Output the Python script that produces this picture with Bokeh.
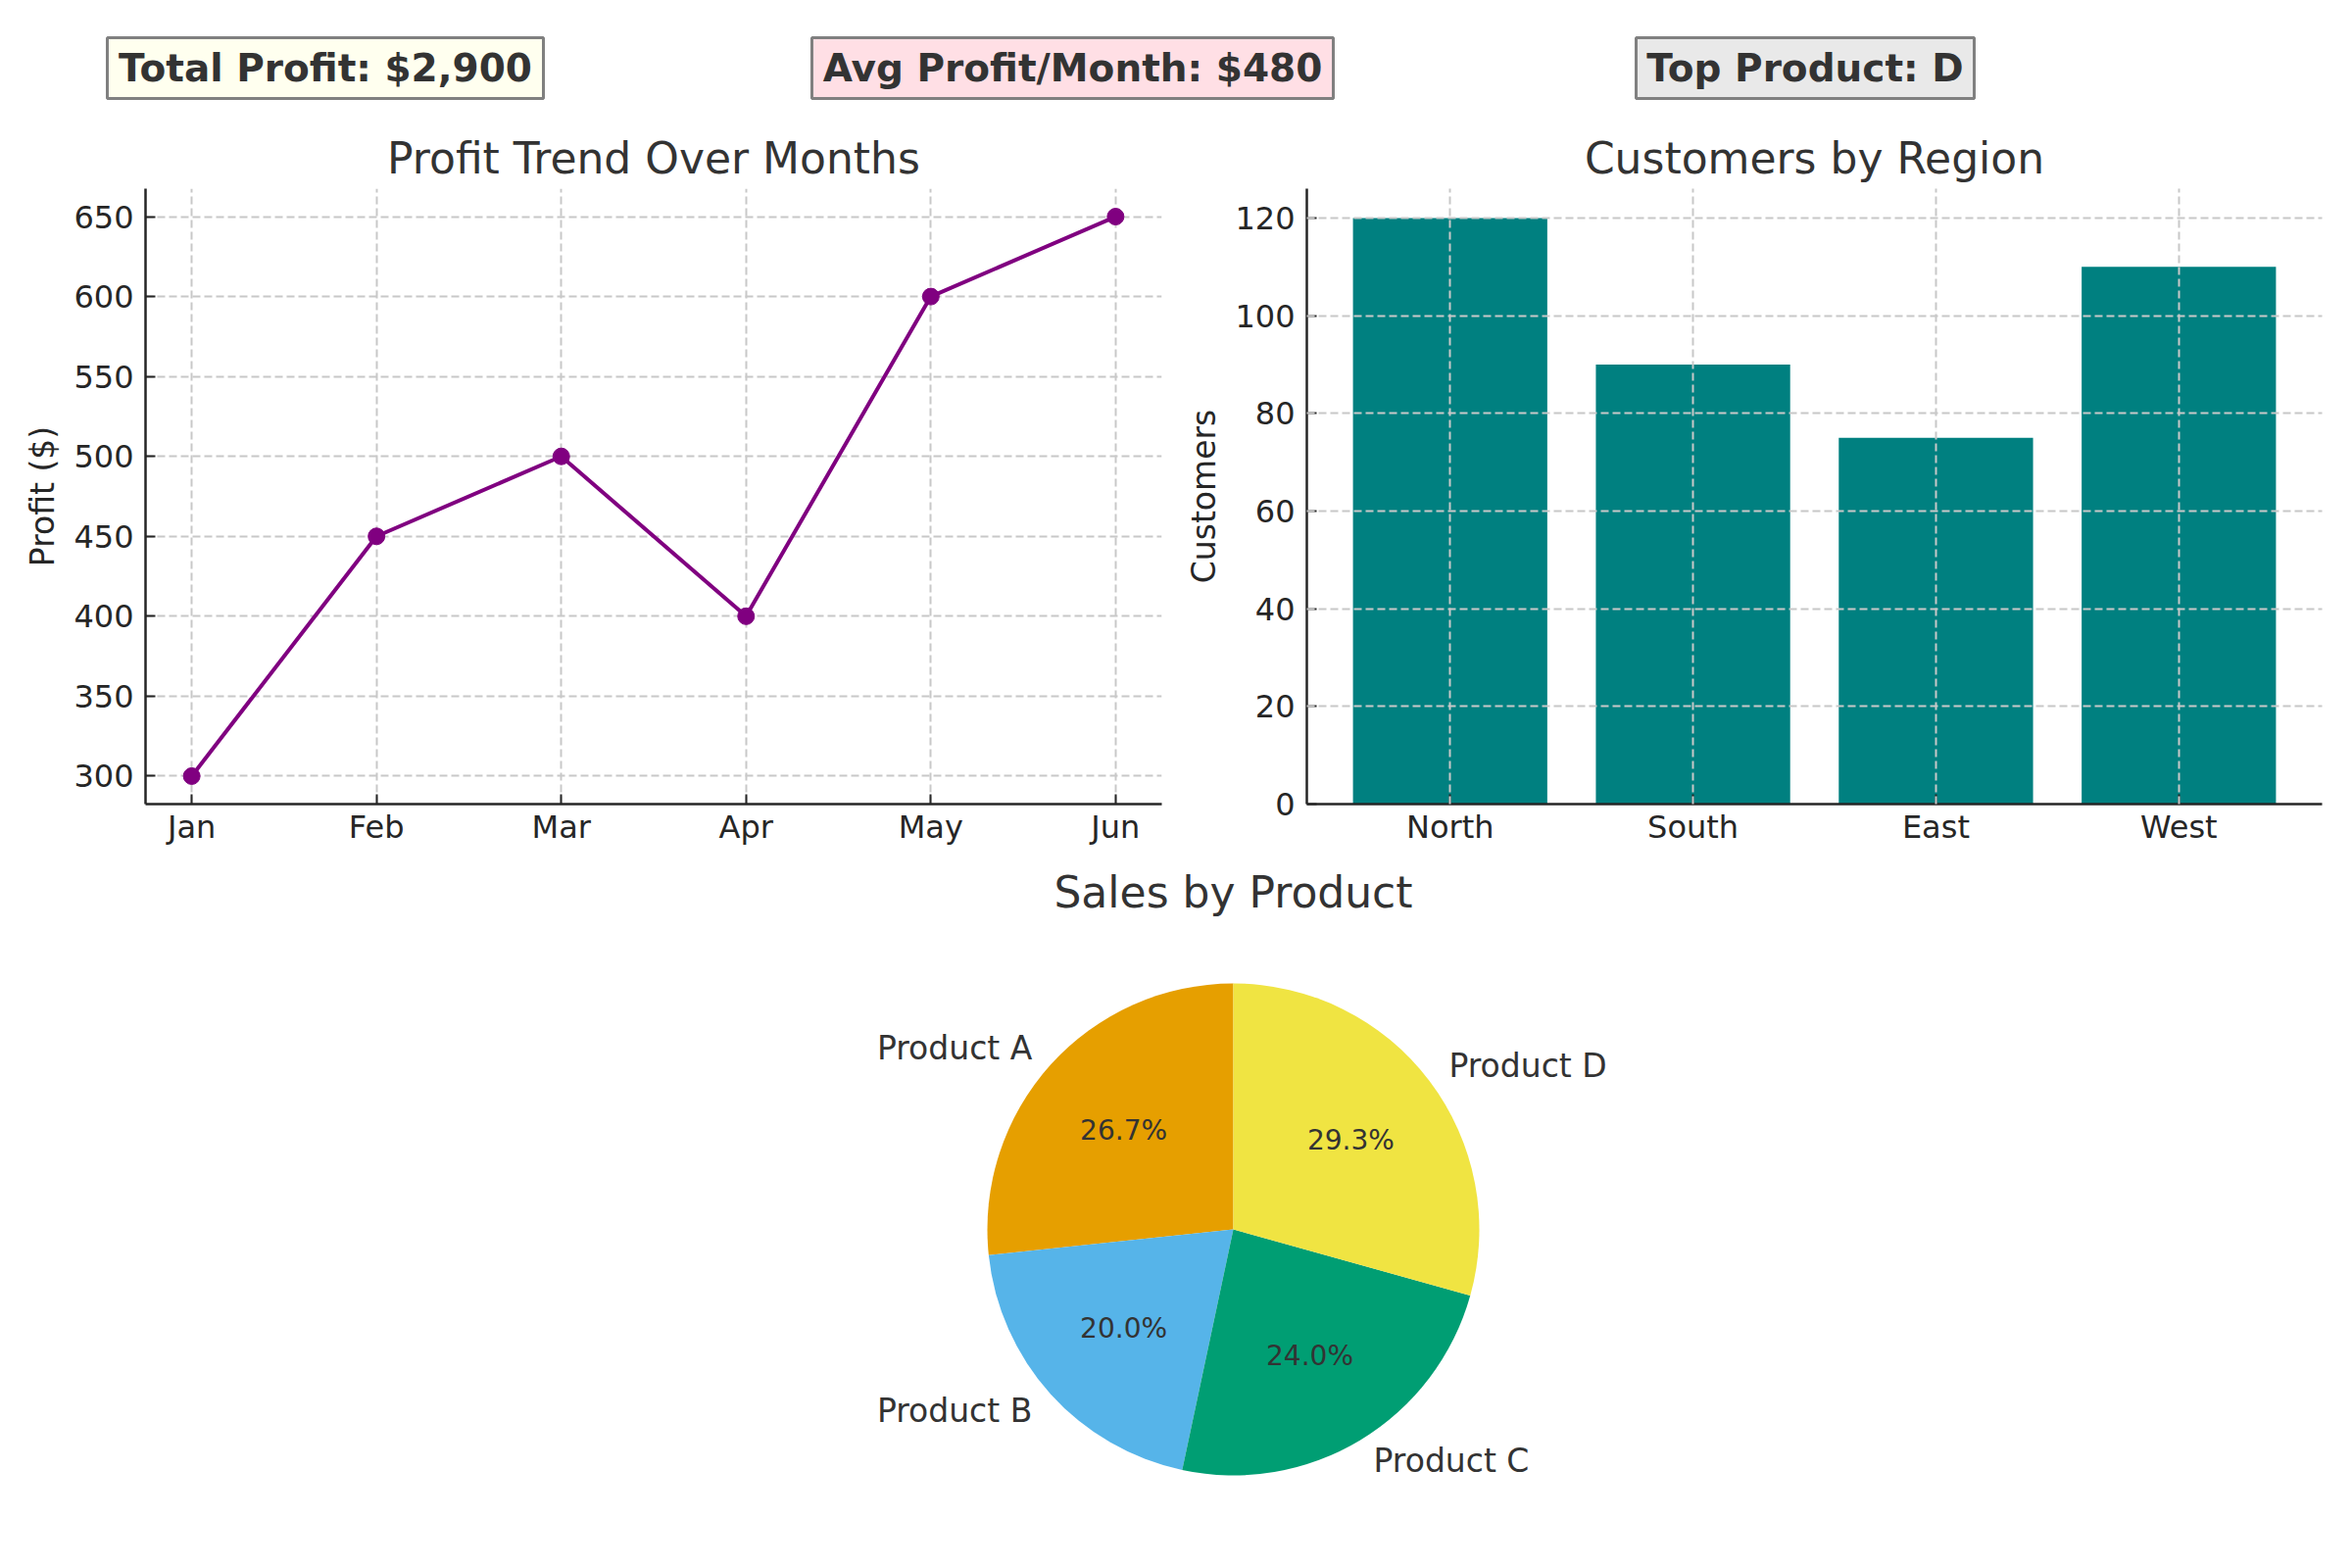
import math
from bokeh.plotting import figure
from bokeh.models import Range1d, FixedTicker
from bokeh.layouts import column, row
from bokeh.embed import file_html
from bokeh.resources import INLINE
from bokeh.core.properties import value

# ---------------- data ----------------
months = ["Jan", "Feb", "Mar", "Apr", "May", "Jun"]
profit = [300, 450, 500, 400, 600, 650]
profit_ticks = [300, 350, 400, 450, 500, 550, 600, 650]

regions = ["North", "South", "East", "West"]
customers = [120, 90, 75, 110]
customer_ticks = [0, 20, 40, 60, 80, 100, 120]

products = ["Product A", "Product B", "Product C", "Product D"]
sales = [200, 150, 180, 220]
pie_colors = ["#E69F00", "#56B4E9", "#009E73", "#F0E442"]

kpi_labels = ["Total Profit: $2,900", "Avg Profit/Month: $480", "Top Product: D"]
kpi_fills = ["#FFFFEF", "#FFDFE5", "#E9E9E9"]
chart_titles = ["Profit Trend Over Months", "Customers by Region", "Sales by Product"]

# ---------------- style ----------------
FONT = "DejaVu Sans"
TXT = "#333333"
AX = "#262626"
GRID = "#c8c8c8"


def style_axes(p):
    p.outline_line_color = None
    for ax in p.axis:
        ax.axis_line_color = AX
        ax.axis_line_width = 2.5
        ax.major_tick_line_color = AX
        ax.major_tick_line_width = 2
        ax.major_tick_in = 10
        ax.major_tick_out = 0
        ax.minor_tick_line_color = None
        ax.major_label_text_font = FONT
        ax.major_label_text_font_size = "32px"
        ax.major_label_text_color = AX
        ax.axis_label_text_font = FONT
        ax.axis_label_text_font_size = "33px"
        ax.axis_label_text_font_style = "normal"
        ax.axis_label_text_color = AX
    p.xaxis.major_label_standoff = 4
    p.yaxis.major_label_standoff = 12
    p.yaxis.axis_label_standoff = 9
    for g in p.grid:
        g.grid_line_color = GRID
        g.grid_line_width = 2
        g.grid_line_dash = "8 4"


# ---------------- header (KPI boxes + chart titles) ----------------
HDR_H = 192
hdr = figure(width=2400, height=HDR_H, x_range=Range1d(0, 2400), y_range=Range1d(HDR_H, 0),
             output_backend="svg", toolbar_location=None, title=None,
             x_axis_location=None, y_axis_location=None, min_border=0)
hdr.grid.visible = False
hdr.outline_line_color = None

box_left = [109, 828, 1669]
box_right = [554, 1360, 2014]
hdr.quad(left=box_left, right=box_right, top=[38] * 3, bottom=[100] * 3,
         fill_color=kpi_fills, line_color="#808080", line_width=3)
hdr.text(x=[(l + r) / 2 for l, r in zip(box_left, box_right)], y=[69] * 3, text=kpi_labels,
         text_font=value(FONT), text_font_size=value("39px"), text_font_style="bold",
         text_color=TXT, text_align="center", text_baseline="middle")
hdr.text(x=[666.5, 1851], y=[161, 161], text=chart_titles[:2],
         text_font=value(FONT), text_font_size=value("44px"),
         text_color=TXT, text_align="center", text_baseline="middle")

# ---------------- line chart ----------------
xs = list(range(len(months)))
pl = figure(width=1195, height=688, x_range=Range1d(-0.25, len(months) - 0.75),
            y_range=Range1d(282.5, 667.5), output_backend="svg", toolbar_location=None,
            title=None, min_border_left=148, min_border_right=10, min_border_top=0,
            min_border_bottom=60)
pl.line(xs, profit, line_color="#800080", line_width=4)
pl.scatter(xs, profit, size=17, fill_color="#800080", line_color="#800080")
pl.xaxis.ticker = FixedTicker(ticks=xs)
pl.xaxis.major_label_overrides = {i: m for i, m in enumerate(months)}
pl.yaxis.ticker = FixedTicker(ticks=profit_ticks)
pl.yaxis.axis_label = "Profit ($)"
style_axes(pl)

# ---------------- bar chart ----------------
bx = list(range(len(regions)))
pb = figure(width=1205, height=688, x_range=Range1d(-0.59, len(regions) - 1 + 0.59),
            y_range=Range1d(0, 126), output_backend="svg", toolbar_location=None,
            title=None, min_border_left=138, min_border_right=31, min_border_top=0,
            min_border_bottom=60)
pb.vbar(x=bx, top=customers, width=0.8, bottom=0, fill_color="#008080", line_color=None)
pb.xaxis.ticker = FixedTicker(ticks=bx)
pb.xaxis.major_label_overrides = {i: r for i, r in enumerate(regions)}
pb.yaxis.ticker = FixedTicker(ticks=customer_ticks)
pb.yaxis.axis_label = "Customers"
style_axes(pb)
for g in pb.grid:
    g.level = "overlay"

# ---------------- pie chart ----------------
R = 251.0            # pie radius in px
CX, CY = 1258, 1254  # pie centre (page px)
X0, X1, Y0, Y1 = 0, 2400, 880, 1600
pp = figure(width=X1 - X0, height=Y1 - Y0,
            x_range=Range1d((X0 - CX) / R, (X1 - CX) / R),
            y_range=Range1d((CY - Y1) / R, (CY - Y0) / R),
            output_backend="svg", toolbar_location=None, title=None,
            x_axis_location=None, y_axis_location=None, min_border=0)
pp.grid.visible = False
pp.outline_line_color = None

total = sum(sales)
starts, ends = [], []
a = math.pi / 2
for s in sales:
    starts.append(a)
    a += 2 * math.pi * s / total
    ends.append(a)
pp.wedge(x=0, y=0, radius=1, start_angle=starts, end_angle=ends, direction="anticlock",
         fill_color=pie_colors, line_color=None)

mids = [(s + e) / 2 for s, e in zip(starts, ends)]
for name, m, s in zip(products, mids, sales):
    lx, ly = 1.1 * math.cos(m), 1.1 * math.sin(m)
    pp.text(x=[lx], y=[ly], text=[name], text_font=value(FONT), text_font_size=value("33px"),
            text_color=TXT, text_align="left" if lx > 0 else "right", text_baseline="middle")
    px, py = 0.6 * math.cos(m), 0.6 * math.sin(m)
    pp.text(x=[px], y=[py], text=[f"{100 * s / total:.1f}%"], text_font=value(FONT),
            text_font_size=value("28px"), text_color=TXT, text_align="center",
            text_baseline="middle")

pp.text(x=[0], y=[(CY - 910) / R], text=[chart_titles[2]], text_font=value(FONT),
        text_font_size=value("44px"), text_color=TXT, text_align="center",
        text_baseline="middle")

layout = column(hdr, row(pl, pb), pp)
open("out.html", "w").write(file_html(layout, INLINE))
